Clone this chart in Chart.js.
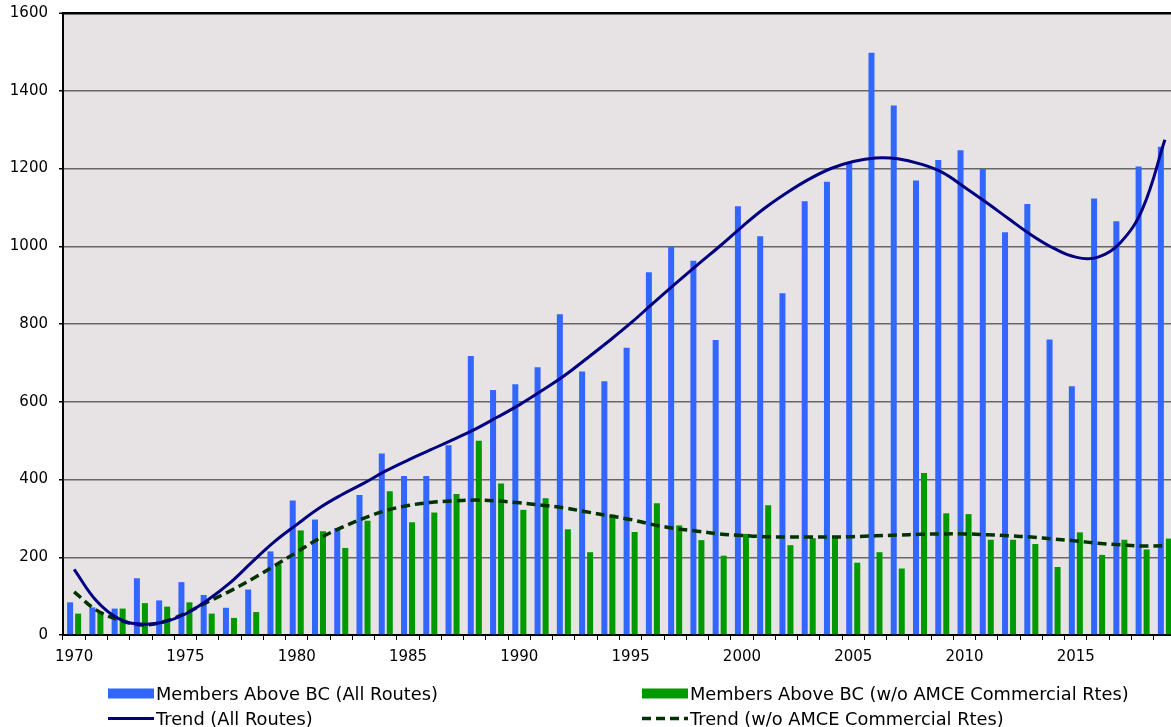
<!DOCTYPE html>
<html>
<head>
<meta charset="utf-8">
<title>Members Above BC</title>
<script src="https://cdn.jsdelivr.net/npm/chart.js@4.4.1/dist/chart.umd.min.js"></script>
<style>
  html, body { margin: 0; padding: 0; background: #fff; overflow: hidden; }
  #wrap { position: relative; width: 1176px; height: 727px; }
  #legend { position: absolute; left: 0; top: 0; width: 1171px; height: 727px; pointer-events: none;
    font-family: 'DejaVu Sans', Verdana, sans-serif; font-size: 17.8px; color: #000; }
  #legend .item { position: absolute; display: flex; align-items: center; white-space: nowrap; transform: translateY(-50%); }
  #legend svg { display: block; margin-right: 2px; }
</style>
</head>
<body>
<div id="wrap">
  <canvas id="chart"></canvas>
  <div id="legend"></div>
</div>
<script>
var years = [1970, 1971, 1972, 1973, 1974, 1975, 1976, 1977, 1978, 1979,
  1980, 1981, 1982, 1983, 1984, 1985, 1986, 1987, 1988, 1989,
  1990, 1991, 1992, 1993, 1994, 1995, 1996, 1997, 1998, 1999,
  2000, 2001, 2002, 2003, 2004, 2005, 2006, 2007, 2008, 2009,
  2010, 2011, 2012, 2013, 2014, 2015, 2016, 2017, 2018, 2019];

var tickYears = [1970, 1975, 1980, 1985, 1990, 1995, 2000, 2005, 2010, 2015];

// members above BC, all routes
var allRoutes = [84, 71, 68, 146, 89, 136, 103, 70, 117, 215,
  346, 297, 275, 360, 467, 409, 409, 488, 718, 630,
  645, 689, 825, 678, 653, 739, 933, 998, 963, 759,
  1103, 1026, 879, 1116, 1166, 1216, 1498, 1362, 1169, 1222,
  1247, 1199, 1036, 1109, 760, 640, 1123, 1064, 1205, 1256];

// members above BC, without AMCE commercial routes
var noCommercial = [55, 60, 68, 82, 73, 84, 55, 44, 59, 182,
  269, 267, 224, 294, 370, 290, 315, 363, 500, 390,
  322, 352, 272, 213, 310, 265, 339, 282, 244, 204,
  260, 334, 231, 249, 251, 186, 213, 171, 417, 313,
  311, 245, 245, 234, 175, 264, 206, 245, 220, 248];

// trend curves, one value per year
var trendAll = [169, 88, 42, 28, 33, 54, 90, 134, 188, 240,
  284, 326, 360, 390, 422, 450, 476, 502, 529, 560,
  592, 628, 666, 710, 755, 802, 853, 903, 952, 1000,
  1050, 1097, 1137, 1172, 1200, 1218, 1227, 1225, 1212, 1190,
  1152, 1112, 1070, 1029, 995, 972, 972, 1009, 1097, 1274];

var trendNoCommercial = [111, 64, 39, 26, 34, 56, 85, 113, 144, 178,
  213, 248, 276, 300, 320, 333, 341, 345, 347, 345,
  340, 334, 327, 317, 307, 297, 284, 274, 267, 260,
  256, 253, 252, 252, 252, 253, 255, 257, 259, 260,
  260, 258, 255, 252, 247, 242, 236, 232, 229, 230];

var yMin = 0, yMax = 1600, yStep = 200;

var FONT = "'DejaVu Sans', Verdana, sans-serif";

var plotBackground = {
  id: 'plotBackground',
  beforeDraw: function(chart) {
    var a = chart.chartArea;
    var ctx = chart.ctx;
    ctx.save();
    ctx.fillStyle = '#e7e3e4';
    ctx.fillRect(a.left, a.top, a.right - a.left, a.bottom - a.top);
    ctx.restore();
  }
};

var chart = new Chart(document.getElementById('chart'), {
  type: 'bar',
  data: {
    labels: years,
    datasets: [
      {
        type: 'line', label: 'Trend (All Routes)', data: trendAll,
        borderColor: '#000080', borderWidth: 3, tension: 0.4,
        pointRadius: 0, fill: false, order: 0
      },
      {
        type: 'line', label: 'Trend (w/o AMCE Commercial Rtes)', data: trendNoCommercial,
        borderColor: '#003300', borderWidth: 3.5, borderDash: [9, 5], tension: 0.4,
        pointRadius: 0, fill: false, order: 0
      },
      {
        label: 'Members Above BC (All Routes)', data: allRoutes,
        backgroundColor: '#3366ff', barPercentage: 0.75, categoryPercentage: 0.72, order: 1
      },
      {
        label: 'Members Above BC (w/o AMCE Commercial Rtes)', data: noCommercial,
        backgroundColor: '#009900', barPercentage: 0.75, categoryPercentage: 0.72, order: 1
      }
    ]
  },
  options: {
    responsive: true,
    maintainAspectRatio: false,
    animation: false,
    devicePixelRatio: 1,
    layout: { padding: { top: 13, left: 0, right: 0, bottom: 0 } },
    plugins: { legend: { display: false }, tooltip: { enabled: false } },
    scales: {
      x: {
        offset: true,
        grid: { display: true, drawOnChartArea: false, drawTicks: true, tickLength: 5, color: '#000', offset: true },
        border: { display: true, color: '#000', width: 2 },
        ticks: {
          autoSkip: false, maxRotation: 0, minRotation: 0, padding: 8,
          color: '#000', font: { family: FONT, size: 15 },
          callback: function(value, index) {
            var y = years[index];
            return tickYears.indexOf(y) >= 0 ? String(y) : '';
          }
        },
        afterFit: function(scale) { scale.height = 92; }
      },
      y: {
        min: yMin, max: yMax,
        grid: {
          color: function(ctx) { return ctx.tick && ctx.tick.value === yMax ? '#000' : '#666'; },
          lineWidth: function(ctx) { return ctx.tick && ctx.tick.value === yMax ? 2.5 : 1.5; },
          drawTicks: true, tickLength: 4, tickColor: '#000', tickWidth: 1.5
        },
        border: { display: true, color: '#000', width: 2 },
        ticks: {
          stepSize: yStep, padding: 11, color: '#000', font: { family: FONT, size: 15 },
          callback: function(value) { return String(value); }
        },
        afterFit: function(scale) {
          scale.width = 63;
          // the top label may hang into the page margin
          scale.paddingTop = 0;
          scale.paddingBottom = 0;
        }
      }
    }
  },
  plugins: [plotBackground]
});

function swatch(ds) {
  var s = '<svg width="46" height="12">';
  if (ds.type === 'line') {
    s += '<line x1="0" y1="6" x2="46" y2="6" stroke="' + ds.borderColor + '" stroke-width="' + ds.borderWidth + '"' +
      (ds.borderDash ? ' stroke-dasharray="' + ds.borderDash.join(',') + '"' : '') + '/>';
  } else {
    s += '<rect x="0" y="1" width="46" height="10" fill="' + ds.backgroundColor + '"/>';
  }
  return s + '</svg>';
}

function renderLegend(chart) {
  var ds = chart.data.datasets;
  // bars on the first row, trends on the second
  var slots = [
    { d: ds[2], left: 108, top: 693 },
    { d: ds[3], left: 642, top: 693 },
    { d: ds[0], left: 108, top: 718 },
    { d: ds[1], left: 642, top: 718 }
  ];
  document.getElementById('legend').innerHTML = slots.map(function(s) {
    return '<div class="item" style="left:' + s.left + 'px;top:' + s.top + 'px;">' + swatch(s.d) +
      '<span>' + s.d.label + '</span></div>';
  }).join('');
}

renderLegend(chart);
</script>
</body>
</html>
